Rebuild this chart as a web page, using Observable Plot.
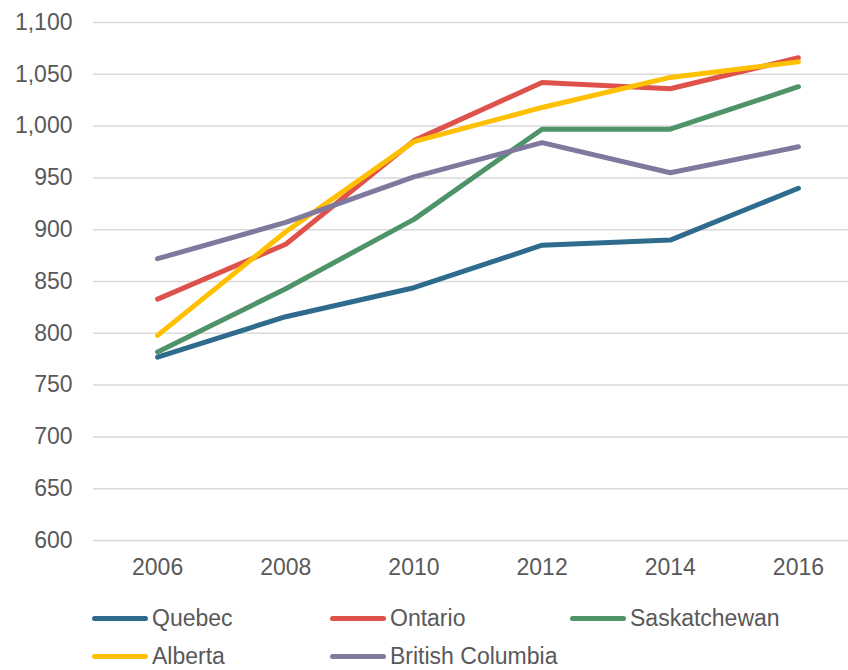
<!DOCTYPE html>
<html>
<head>
<meta charset="utf-8">
<script src="https://cdn.jsdelivr.net/npm/d3@7"></script>
<script src="https://cdn.jsdelivr.net/npm/@observablehq/plot@0.6"></script>
<style>
  html, body { margin: 0; padding: 0; background: #fff; }
  #wrap { position: relative; width: 848px; height: 670px; overflow: hidden;
          font-family: "Liberation Sans", Arial, sans-serif; color: #595959; }
  #chart svg { display: block; }
  .legend-item { position: absolute; display: flex; align-items: center; font-size: 23px; line-height: 1; white-space: nowrap; }
  .legend-item .sw { width: 56px; height: 5px; border-radius: 3px; margin-right: 4px; }
</style>
</head>
<body>
<div id="wrap">
  <div id="chart"></div>
  <div id="legend"></div>
</div>
<script>
// Survey years
const years = [2006, 2008, 2010, 2012, 2014, 2016];

// Values per province
const quebec       = [777, 816, 844, 885, 890, 940];
const ontario      = [833, 886, 986, 1042, 1036, 1066];
const saskatchewan = [782, 843, 910, 997, 997, 1038];
const alberta      = [798, 898, 985, 1018, 1047, 1062];
const britishColumbia = [872, 907, 951, 984, 955, 980];

const provinces = ["Quebec", "Ontario", "Saskatchewan", "Alberta", "British Columbia"];
const seriesValues = [quebec, ontario, saskatchewan, alberta, britishColumbia];
const colors = ["#2E6B8C", "#DE524B", "#4E9468", "#FFC000", "#7F799E"];

// Y axis ticks
const yTicks = [600, 650, 700, 750, 800, 850, 900, 950, 1000, 1050, 1100];

// Long-format table for Plot
const rows = [];
provinces.forEach((p, i) => {
  years.forEach((y, j) => rows.push({province: p, year: y, value: seriesValues[i][j]}));
});

const thousands = d3.format(",");

const chart = Plot.plot({
  width: 848,
  height: 590,
  marginTop: 22,
  marginBottom: 50,
  marginLeft: 93,
  marginRight: 0,
  style: {fontFamily: '"Liberation Sans", Arial, sans-serif', fontSize: "23px", color: "#595959", background: "#fff"},
  x: {domain: [2005, 2017], range: [93, 862], label: null},
  y: {domain: [600, 1100], label: null},
  color: {domain: provinces, range: colors},
  marks: [
    Plot.gridY(yTicks, {stroke: "#d9d9d9", strokeOpacity: 1, strokeWidth: 1.5}),
    Plot.axisX(years, {tickFormat: d => String(d), tickSize: 0, tickPadding: 18, fill: "#595959", label: null}),
    Plot.axisY(yTicks, {tickFormat: d => thousands(d), tickSize: 0, tickPadding: 21, fill: "#595959", label: null}),
    Plot.line(rows, {x: "year", y: "value", z: "province", stroke: "province",
                     strokeWidth: 5, strokeLinecap: "round", strokeLinejoin: "round"})
  ]
});
document.getElementById("chart").appendChild(chart);

// Legend below the plot
const legendPos = [
  {left: 92, top: 619}, {left: 330, top: 619}, {left: 570, top: 619},
  {left: 92, top: 657}, {left: 330, top: 657}
];
const legend = document.getElementById("legend");
provinces.forEach((p, i) => {
  const item = document.createElement("div");
  item.className = "legend-item";
  item.style.left = legendPos[i].left + "px";
  item.style.top = (legendPos[i].top - 12) + "px";
  const sw = document.createElement("span");
  sw.className = "sw";
  sw.style.background = colors[i];
  const label = document.createElement("span");
  label.textContent = p;
  item.appendChild(sw);
  item.appendChild(label);
  legend.appendChild(item);
});
</script>
</body>
</html>
